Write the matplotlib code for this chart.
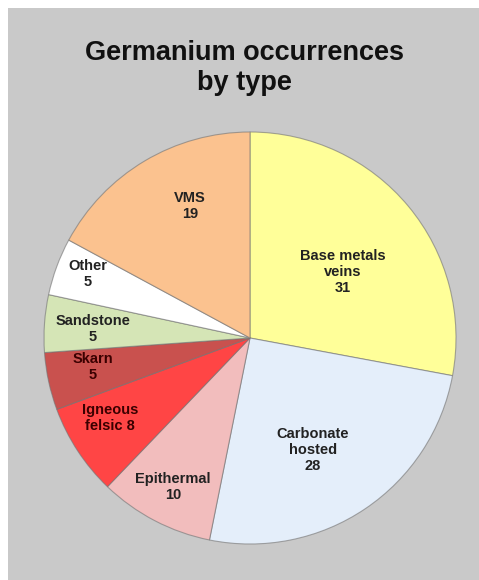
import matplotlib
matplotlib.use("Agg")
import matplotlib.pyplot as plt
import numpy as np
from matplotlib.patches import Rectangle

categories = ["Base metals\nveins\n31", "Carbonate\nhosted\n28", "Epithermal\n10",
              "Igneous\nfelsic 8", "Skarn\n5", "Sandstone\n5", "Other\n5", "VMS\n19"]
values = [31, 28, 10, 8, 5, 5, 5, 19]
colors = ["#FFFF99", "#E4EEFA", "#F2BDBD", "#FF4545", "#C9514E", "#D5E5B6", "#FFFFFF", "#FBC28F"]
label_dist = [0.553, 0.624, 0.814, 0.783, 0.775, 0.763, 0.846, 0.704]
label_dang = [-4.3, -4.7, 0.3, -3.5, -1.7, 0.8, -1.3, -6.4]
label_colors = ["#222222", "#222222", "#222222", "#3a0000", "#3a0000", "#222222", "#222222", "#222222"]

W, H = 479, 580
fig = plt.figure(figsize=(W/100, H/100), dpi=100)
fig.patch.set_facecolor("white")
fig.add_artist(Rectangle((8/W, 0), 1 - 8/W, 1 - 8/H, transform=fig.transFigure,
                         facecolor="#C9C9C9", edgecolor="none", zorder=0))

cx, cy, r = 250, 338, 206
ax = fig.add_axes([(cx - r)/W, (H - cy - r)/H, 2*r/W, 2*r/H])
ax.set_facecolor("none")
wedges, _ = ax.pie(values, colors=colors, startangle=90, counterclock=False,
                   radius=1.0, wedgeprops=dict(edgecolor=(0.45, 0.45, 0.45, 0.6), linewidth=0.8))
ax.set_xlim(-1, 1); ax.set_ylim(-1, 1)
ax.set_aspect("auto")
ax.axis("off")

for w, lab, d, da, c in zip(wedges, categories, label_dist, label_dang, label_colors):
    ang = np.deg2rad((w.theta1 + w.theta2) / 2 + da)
    ax.text(d*np.cos(ang), d*np.sin(ang), lab, ha="center", va="center",
            fontsize=10.5, fontweight="bold", family="Liberation Sans", color=c, linespacing=1.2)

fig.text(0.511, 1 - 68/H, "Germanium occurrences\nby type", ha="center", va="center",
         fontsize=19.5, fontweight="bold", family="Liberation Sans", color="#111111", linespacing=1.2)

fig.savefig("out.png", dpi=100)
